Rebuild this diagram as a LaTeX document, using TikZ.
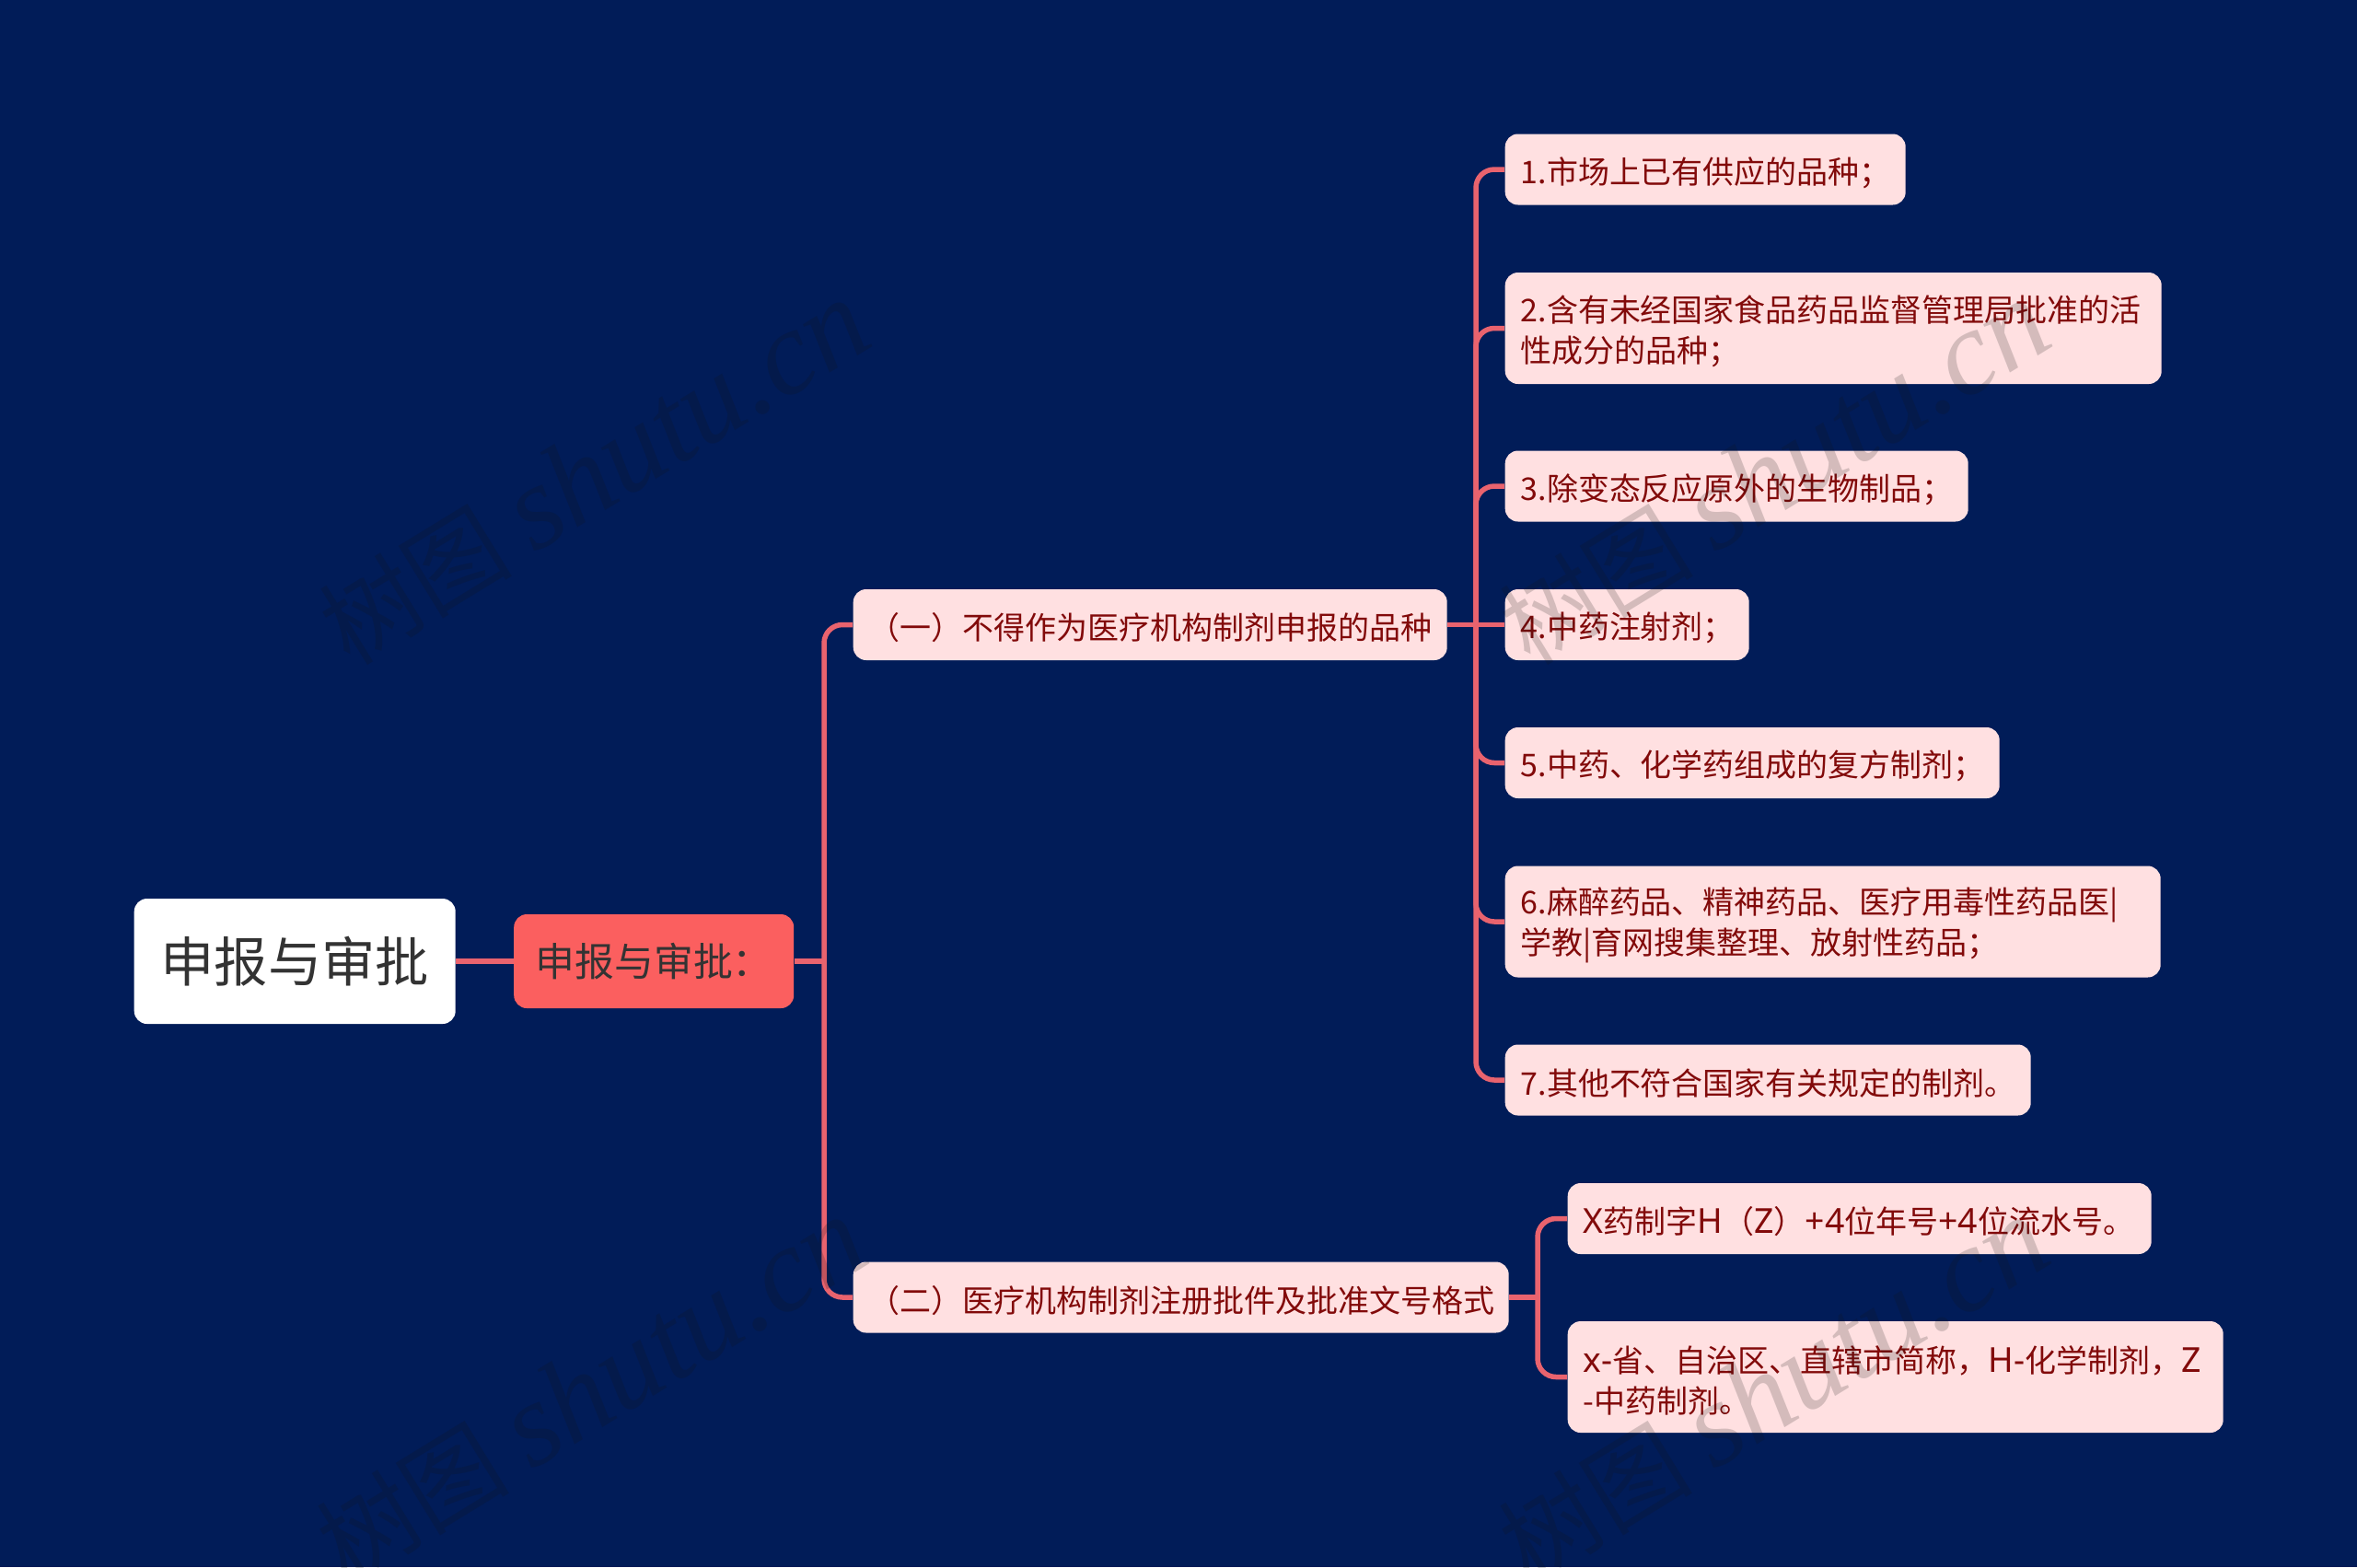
\documentclass[tikz,border=0pt]{standalone}
\usepackage{fontspec}
\setmainfont{Noto Sans CJK SC}
\newfontfamily\markfont{Liberation Serif}
\newfontfamily\markcjk{Noto Sans CJK SC}
\newfontfamily\latinpart[Scale=1.1]{Noto Sans}

\definecolor{pagebg}{RGB}{1,28,88}
\definecolor{branchred}{RGB}{233,99,110}
\definecolor{corered}{RGB}{251,95,95}
\definecolor{leafpink}{RGB}{255,224,225}
\definecolor{leaftext}{RGB}{130,10,10}
\definecolor{coretext}{RGB}{51,51,51}

\tikzset{
    rootbox/.style={anchor=west, fill=white, text=coretext, rounded corners=0.14cm,
        minimum width=3.49cm, minimum height=1.36cm, inner sep=0pt,
        font=\fontsize{16.6}{20}\selectfont},
    corebox/.style={anchor=west, fill=corered, text=coretext, rounded corners=0.14cm,
        minimum width=3.04cm, minimum height=1.02cm, inner sep=0pt,
        font=\fontsize{12.2}{15}\selectfont},
    leafbox/.style={anchor=west, fill=leafpink, text=leaftext, rounded corners=0.14cm,
        align=left, inner xsep=0.17cm, inner ysep=0pt, minimum height=0.77cm,
        font=\fontsize{9.67}{12.5}\selectfont,
        execute at begin node={\rule{0pt}{0.36cm}}},
    branch/.style={draw=branchred, line width=0.055cm, rounded corners=0.2cm},
    seal/.style={rotate=31.5, text=gray!15!black, opacity=0.18, inner sep=0pt}
}

\begin{document}
\begin{tikzpicture}[y=-1cm]
    % Page
    \useasboundingbox (0,0) rectangle (25.6,17.02);
    \fill[pagebg] (0,0) rectangle (25.6,17.02);

    % Root and the red node
    \node[rootbox] (root) at (1.45,10.44) {申报与审批};
    \node[corebox] (core) at (5.575,10.44) {申报与审批：};

    % Two middle nodes
    \node[leafbox, text width=6.11cm] (first) at (9.26,6.785) {（一）不得作为医疗机构制剂申报的品种};
    \node[leafbox, text width=6.78cm] (second) at (9.26,14.09) {（二）医疗机构制剂注册批件及批准文号格式};

    % First group of leaves
    \node[leafbox, text width=4.01cm] (leafa) at (16.34,1.84) {1.市场上已有供应的品种；};
    \node[leafbox, text width=6.79cm, minimum height=1.21cm] (leafb) at (16.34,3.565) {2.含有未经国家食品药品监督管理局批准的活\\性成分的品种；};
    \node[leafbox, text width=4.69cm] (leafc) at (16.34,5.28) {3.除变态反应原外的生物制品；};
    \node[leafbox, text width=2.31cm] (leafd) at (16.34,6.785) {4.中药注射剂；};
    \node[leafbox, text width=5.03cm] (leafe) at (16.34,8.285) {5.中药、化学药组成的复方制剂；};
    \node[leafbox, text width=6.78cm, minimum height=1.21cm] (leaff) at (16.34,10.01) {6.麻醉药品、精神药品、医疗用毒性药品医|\\学教|育网搜集整理、放射性药品；};
    \node[leafbox, text width=5.37cm] (leafg) at (16.34,11.73) {7.其他不符合国家有关规定的制剂。};

    % Second group of leaves
    \node[leafbox, text width=6.0cm] (leafh) at (17.02,13.235) {{\latinpart X}药制字{\latinpart H}（{\latinpart Z}）{\latinpart +4}位年号{\latinpart +4}位流水号。};
    \node[leafbox, text width=6.78cm, minimum height=1.21cm] (leafi) at (17.02,14.955) {{\latinpart x-}省、自治区、直辖市简称，{\latinpart H-}化学制剂，{\latinpart Z}\\-中药制剂。};

    % Points where the lines fork
    \coordinate (forka) at (8.95,10.44);
    \coordinate (forkb) at (16.03,6.785);
    \coordinate (forkc) at (16.70,14.09);

    % Draw the connectors
    \draw[branch] (root.east) -- (core.west);
    \draw[branch] (core.east) -- (forka);
    \foreach \n in {first,second} {
        \draw[branch] (forka) |- (\n.west);
    }
    \draw[branch] (first.east) -- (leafd.west);
    \foreach \n in {leafa,leafb,leafc,leafe,leaff,leafg} {
        \draw[branch] (forkb) |- (\n.west);
    }
    \draw[branch] (second.east) -- (forkc);
    \foreach \n in {leafh,leafi} {
        \draw[branch] (forkc) |- (\n.west);
    }

    % Watermarks on top
    \foreach \x/\y [count=\i] in {6.45/5.14,19.27/5.14,6.42/15.10,19.26/15.10} {
        \node[seal] (seal\i) at (\x,\y) {\fontsize{30}{30}\selectfont\markcjk 树图 \fontsize{37}{37}\selectfont\markfont\itshape shutu.cn};
    }
\end{tikzpicture}
\end{document}
